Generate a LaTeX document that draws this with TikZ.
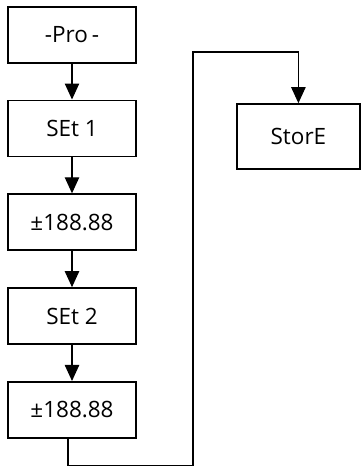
\documentclass[tikz,border=0pt]{standalone}
\usepackage{fontspec}
\setmainfont{Open Sans}
\usepackage{tikz}
\usetikzlibrary{arrows.meta,positioning}

\begin{document}
\begin{tikzpicture}[
  box/.style={draw, line width=1.3pt, minimum width=3.2cm, minimum height=1.4cm, inner sep=2pt, font=\fontsize{16}{19}\selectfont},
  arr/.style={-{Triangle[length=0.4cm, width=0.36cm]}, line width=0.8pt}
]
\useasboundingbox (0,0) rectangle (9.025,11.675);
% --- menu column ---
\node[box] (pro)  at (1.8,10.81) {-Pro\,-};
\node[box, below=0.9cm of pro]  (set1) {SEt 1};
\node[box, below=0.9cm of set1] (val1) {±188.88};
\node[box, below=0.9cm of val1] (set2) {SEt 2};
\node[box, below=0.9cm of set2] (val2) {±188.88};
% --- store ---
\node[box, minimum width=3.075cm, minimum height=1.625cm] (store) at (7.46,8.26) {StorE};
% --- flow ---
\draw[arr] (pro) -- (set1);
\draw[arr] (set1) -- (val1);
\draw[arr] (val1) -- (set2);
\draw[arr] (set2) -- (val2);
\coordinate (turnlo) at (4.825,0.04);
\coordinate (turnhi) at (4.825,10.375);
\draw[arr] ([xshift=-1mm]val2.south) |- (turnlo) -- (turnhi) -| (store.north);
\end{tikzpicture}
\end{document}
